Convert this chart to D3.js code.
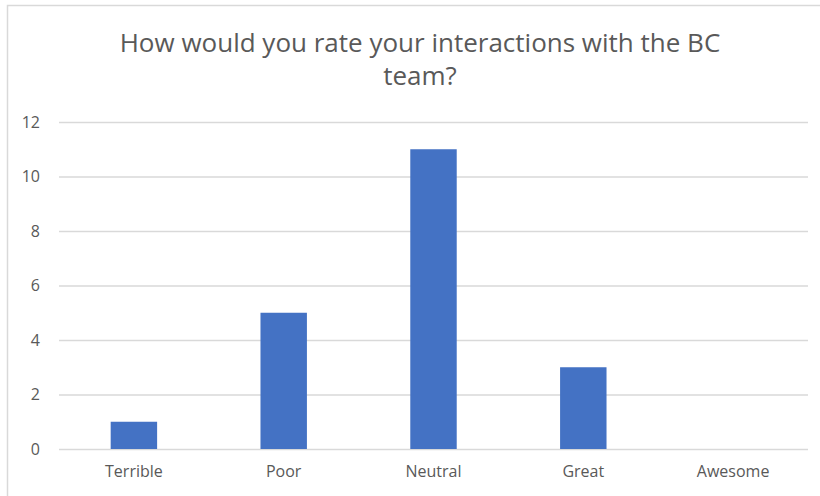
<!DOCTYPE html>
<html>
<head>
<meta charset="utf-8">
<script src="https://cdn.jsdelivr.net/npm/d3@7"></script>
<style>
  html, body { margin: 0; padding: 0; background: #fff; }
  svg { display: block; }
  text { font-family: "Open Sans", "Noto Sans", sans-serif; fill: #595959; }
</style>
</head>
<body>
<svg id="chart" width="820" height="496"></svg>
<script>
// Survey responses
const categories = ["Terrible", "Poor", "Neutral", "Great", "Awesome"];
const counts = [1, 5, 11, 3, 0];
const yTicks = [0, 2, 4, 6, 8, 10, 12];
const titleLines = ["How would you rate your interactions with the BC", "team?"];

const svg = d3.select("#chart");

// Chart frame
svg.append("rect")
  .attr("x", 7.5).attr("y", 5.5)
  .attr("width", 900).attr("height", 600)
  .attr("fill", "#fff")
  .attr("stroke", "#d9d9d9")
  .attr("stroke-width", 1.5);

const plot = { left: 59, right: 808, top: 122, bottom: 449 };

const x = d3.scaleBand()
  .domain(categories)
  .range([plot.left, plot.right])
  .paddingInner(0.69)
  .paddingOuter(0.345);

const y = d3.scaleLinear()
  .domain([0, 12])
  .range([plot.bottom, plot.top]);

// Title
svg.append("text")
  .attr("text-anchor", "middle")
  .style("font-size", "26px")
  .selectAll("tspan")
  .data(titleLines)
  .join("tspan")
  .attr("x", 420)
  .attr("y", (d, i) => 52 + i * 33)
  .text(d => d);

// Gridlines and y labels
const yAxis = d3.axisLeft(y)
  .tickValues(yTicks)
  .tickSize(-(plot.right - plot.left))
  .tickPadding(19);

const gy = svg.append("g")
  .attr("transform", `translate(${plot.left},0)`)
  .call(yAxis);
gy.select(".domain").remove();
gy.selectAll(".tick line")
  .attr("stroke", "#d9d9d9")
  .attr("stroke-width", 1.3);
gy.selectAll(".tick text")
  .style("font-size", "16px")
  .style("fill", "#595959")
  .style("font-family", "'Open Sans', sans-serif");

// Bars
svg.append("g")
  .selectAll("rect")
  .data(categories.map((c, i) => ({ c, v: counts[i] })))
  .join("rect")
  .attr("x", d => x(d.c))
  .attr("width", x.bandwidth())
  .attr("y", d => y(d.v))
  .attr("height", d => y(0) - y(d.v))
  .attr("fill", "#4472c4");

// Category labels
const xAxis = d3.axisBottom(x).tickSize(0).tickPadding(17);
const gx = svg.append("g")
  .attr("transform", `translate(0,${plot.bottom})`)
  .call(xAxis);
gx.select(".domain").remove();
gx.selectAll(".tick text")
  .style("font-size", "16px")
  .style("fill", "#595959")
  .style("font-family", "'Open Sans', sans-serif");
</script>
</body>
</html>
